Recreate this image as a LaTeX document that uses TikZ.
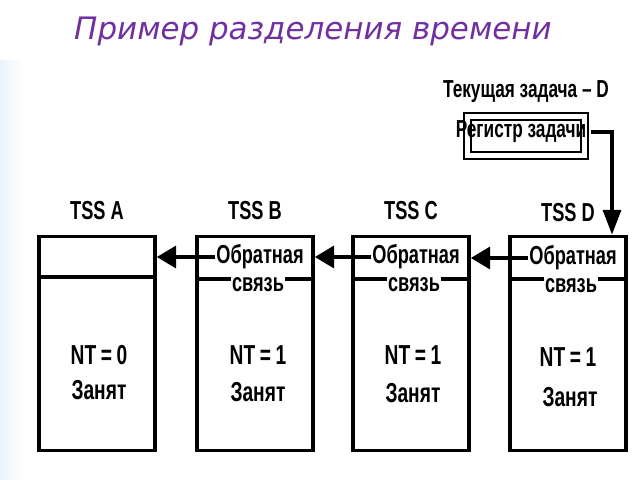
\documentclass[tikz,border=0pt]{standalone}
\usepackage{fontspec}
\setmainfont{Liberation Sans}
\newfontfamily\dgm[FakeStretch=0.7]{Liberation Sans}
\newfontfamily\ttl{DejaVu Sans}
\usetikzlibrary{arrows.meta,positioning}
\definecolor{titlepurple}{RGB}{112,48,160}
\definecolor{edgeblue}{RGB}{232,244,250}

\begin{document}
\begin{tikzpicture}[x=0.025cm,y=-0.025cm]
\tikzset{tss/.style={draw,line width=2.6pt,minimum width=2.9cm,minimum height=5.35cm,inner sep=0pt},
tsslbl/.style={font=\dgm\bfseries\fontsize{18.5}{20}\selectfont},
field/.style={fill=white,inner sep=1pt,font=\dgm\bfseries\fontsize{18.5}{20}\selectfont},
val/.style={font=\dgm\bfseries\fontsize{19.5}{21}\selectfont},
toplbl/.style={font=\dgm\bfseries\fontsize{17.5}{20}\selectfont}}
\useasboundingbox (0,0) rectangle (640,480);
\shade[left color=edgeblue,right color=white] (0,60) rectangle (24,480);
\node[text=titlepurple,font=\ttl\itshape\fontsize{22}{25}\selectfont] (title) at (313,31) {Пример разделения времени};

\node[tss] (tss A) at (97,343.5) {};
\node[tss] (tss B) at (255,343.5) {};
\node[tss] (tss C) at (411,343.5) {};
\node[tss] (tss D) at (568,343.5) {};
\node[tsslbl,above=0.25cm of tss A] (lbl A) {TSS A};
\node[tsslbl,above=0.25cm of tss B] (lbl B) {TSS B};
\node[tsslbl,above=0.25cm of tss C] (lbl C) {TSS C};
\node[tsslbl,above=0.2cm of tss D] (lbl D) {TSS D};

%\node[field] (ob A) ... first task has no back link
\draw[line width=2.4pt] (tss A.west |- 0,277) -- (tss A.east |- 0,277);
\draw[line width=2.4pt] (tss B.west |- 0,279) -- (tss B.east |- 0,279);
\draw[line width=2.4pt] (tss C.west |- 0,279) -- (tss C.east |- 0,279);
\draw[line width=2.4pt] (tss D.west |- 0,279) -- (tss D.east |- 0,279);
\node[field] (ob B) at (260,257) {Обратная};
\node[field] (sv B) at (258,285) {связь};
\node[field] (ob C) at (416,257) {Обратная};
\node[field] (sv C) at (414,285) {связь};
\node[field] (ob D) at (573,258) {Обратная};
\node[field] (sv D) at (571,286) {связь};

\node[val] (nt A) at (99,355) {NT\,=\,0};
\node[val] (busy A) at (99,390) {Занят};
\node[val] (nt B) at (258,355) {NT\,=\,1};
\node[val] (busy B) at (258,392) {Занят};
\node[val] (nt C) at (413,355) {NT\,=\,1};
\node[val] (busy C) at (413,393) {Занят};
\node[val] (nt D) at (568,357) {NT\,=\,1};
\node[val] (busy D) at (570,397) {Занят};

\node[draw,double,double distance=0.12cm,line width=1.5pt,minimum width=2.925cm,minimum height=0.975cm] (reg) at (526,136) {};
\node[toplbl] (reg txt) at (521,132) {Регистр задачи};
\node[toplbl,above=0.2cm of reg] (current) {Текущая задача – D};

\path[line width=2.4pt,->,>={Triangle[length=0.48cm,width=0.55cm]}]
(ob D.west) edge (tss C.east |- ob D.west)
(ob C.west) edge (tss B.east |- ob C.west)
(ob B.west) edge (tss A.east |- ob B.west);
\draw[line width=2.4pt,->,>={Triangle[length=0.62cm,width=0.45cm]}]
(reg txt.east) -| (tss D.north -| 612,0);
\end{tikzpicture}
\end{document}
